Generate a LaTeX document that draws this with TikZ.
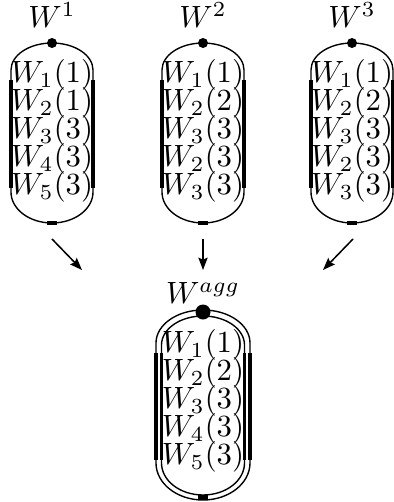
\documentclass[tikz,border=0pt]{standalone}
\usetikzlibrary{arrows.meta}
\begin{document}
\begin{tikzpicture}[x=0.325pt,y=0.325pt,
  thinline/.style={line width=0.45pt},
  thickline/.style={line width=1.1pt},
  lbl/.style={inner sep=0pt, anchor=center},
  arr/.style={-{Stealth[length=4pt,width=3pt,inset=0.6pt]}, line width=0.5pt}]
\useasboundingbox (0,0) rectangle (394,-502);
% top shapes
\foreach \cx/\nm in {52/s1,203/s2,352/s3}{
  \draw[thinline] (\cx-41,-192) -- (\cx-41,-70)
     arc[start angle=180,end angle=0,x radius=41,y radius=27]
     -- (\cx+41,-192)
     arc[start angle=0,end angle=-180,x radius=41,y radius=31] -- cycle;
  \draw[thickline] (\cx-41,-80) -- (\cx-41,-188);
  \draw[thickline] (\cx+41,-80) -- (\cx+41,-188);
  \draw[thickline] (\cx-5,-223) -- (\cx+5,-223);
  \fill (\cx,-43) circle[radius=5];
}
\node[lbl] (t1) at (52,-15) {$W^1$};
\node[lbl] (t2) at (203,-15) {$W^2$};
\node[lbl] (t3) at (352,-15) {$W^3$};
% shape 1 text
\node[lbl] (a1) at (52,-75) {$W_1(1)$};
\node[lbl] (a2) at (52,-103) {$W_2(1)$};
\node[lbl] (a3) at (52,-131) {$W_3(3)$};
\node[lbl] (a4) at (52,-159) {$W_4(3)$};
\node[lbl] (a5) at (52,-187) {$W_5(3)$};
% shape 2 text
\node[lbl] (b1) at (203,-75) {$W_1(1)$};
\node[lbl] (b2) at (203,-103) {$W_2(2)$};
\node[lbl] (b3) at (203,-131) {$W_3(3)$};
\node[lbl] (b4) at (203,-159) {$W_2(3)$};
\node[lbl] (b5) at (203,-187) {$W_3(3)$};
% shape 3 text
\node[lbl] (c1) at (352,-75) {$W_1(1)$};
\node[lbl] (c2) at (352,-103) {$W_2(2)$};
\node[lbl] (c3) at (352,-131) {$W_3(3)$};
\node[lbl] (c4) at (352,-159) {$W_2(3)$};
\node[lbl] (c5) at (352,-187) {$W_3(3)$};
% arrows
\coordinate (p1) at (52,-239);
\coordinate (q1) at (82,-270);
\coordinate (p2) at (203,-239);
\coordinate (q2) at (203,-270);
\coordinate (p3) at (353,-239);
\coordinate (q3) at (323,-270);
\draw[arr] (p1) -- (q1);
\draw[arr] (p2) -- (q2);
\draw[arr] (p3) -- (q3);
% aggregate shape
\draw[thinline] (156,-463) -- (156,-343)
   arc[start angle=180,end angle=0,x radius=47,y radius=33]
   -- (250,-463)
   arc[start angle=0,end angle=-180,x radius=47,y radius=37] -- cycle;
\draw[thinline] (161.5,-463) -- (161.5,-345)
   arc[start angle=180,end angle=0,x radius=41.5,y radius=29]
   -- (244.5,-463)
   arc[start angle=0,end angle=-180,x radius=41.5,y radius=32] -- cycle;
\draw[thickline] (156,-353) -- (156,-460);
\draw[thickline] (161.5,-353) -- (161.5,-460);
\draw[thickline] (244.5,-353) -- (244.5,-460);
\draw[thickline] (250,-353) -- (250,-460);
\draw[line width=1.4pt] (198,-497.5) -- (208,-497.5);
\fill (203,-312) circle[radius=7.5];
\node[lbl] (tg) at (203,-293) {$W^{agg}$};
\node[lbl] (g1) at (203,-345) {$W_1(1)$};
\node[lbl] (g2) at (203,-373) {$W_2(2)$};
\node[lbl] (g3) at (203,-401) {$W_3(3)$};
\node[lbl] (g4) at (203,-429) {$W_4(3)$};
\node[lbl] (g5) at (203,-457) {$W_5(3)$};
\end{tikzpicture}
\end{document}
